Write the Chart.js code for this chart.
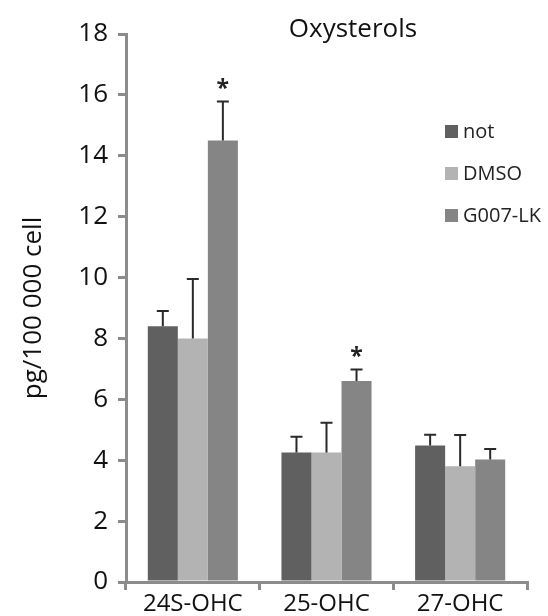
<!DOCTYPE html>
<html>
<head>
<meta charset="utf-8">
<script src="https://cdn.jsdelivr.net/npm/chart.js@4.4.0/dist/chart.umd.min.js"></script>
<style>
  html, body { margin: 0; padding: 0; background: #fff; }
  #wrap { width: 548px; height: 616px; }
</style>
</head>
<body>
<div id="wrap"><canvas id="ch"></canvas></div>
<script>
// data
const categories = ['24S-OHC', '25-OHC', '27-OHC'];
const seriesNames = ['not', 'DMSO', 'G007-LK'];
const notVals = [8.4, 4.25, 4.48];
const dmsoVals = [8.0, 4.25, 3.8];
const g007Vals = [14.5, 6.6, 4.02];
const notErr = [0.5, 0.52, 0.36];
const dmsoErr = [1.95, 0.98, 1.03];
const g007Err = [1.28, 0.38, 0.35];
const g007Signif = [true, true, false];
const yTicks = [0, 2, 4, 6, 8, 10, 12, 14, 16, 18];

const COLS = ['#606060', '#b3b3b3', '#858585'];
const AXIS = '#8c8c8c';
const FONT = 'Open Sans';

const datasets = [
  { label: seriesNames[0], data: notVals, err: notErr, backgroundColor: COLS[0] },
  { label: seriesNames[1], data: dmsoVals, err: dmsoErr, backgroundColor: COLS[1] },
  { label: seriesNames[2], data: g007Vals, err: g007Err, star: g007Signif, backgroundColor: COLS[2] }
].map(d => ({ ...d, categoryPercentage: 0.674, barPercentage: 1.0, borderWidth: 0 }));

// error bars, asterisks, title and legend
const extras = {
  id: 'extras',
  afterDatasetsDraw(chart) {
    const { ctx, scales: { y } } = chart;
    ctx.save();
    chart.data.datasets.forEach((ds, di) => {
      chart.getDatasetMeta(di).data.forEach((bar, i) => {
        const top = y.getPixelForValue(ds.data[i] + ds.err[i]);
        ctx.strokeStyle = '#2a2a2a';
        ctx.lineWidth = 2;
        ctx.beginPath();
        ctx.moveTo(bar.x, bar.y);
        ctx.lineTo(bar.x, top);
        ctx.moveTo(bar.x - 6, top);
        ctx.lineTo(bar.x + 6, top);
        ctx.stroke();
        if (ds.star && ds.star[i]) {
          ctx.fillStyle = '#222';
          ctx.font = `bold 23px ${FONT}`;
          ctx.textAlign = 'center';
          ctx.textBaseline = 'middle';
          ctx.fillText('*', bar.x, top - 12);
        }
      });
    });

    ctx.fillStyle = '#111';
    ctx.font = `26px ${FONT}`;
    ctx.textAlign = 'center';
    ctx.textBaseline = 'middle';
    ctx.fillText('Oxysterols', 353, 30);

    ctx.font = `20px ${FONT}`;
    ctx.textAlign = 'left';
    chart.data.datasets.forEach((ds, di) => {
      const cy = 131 + di * 42;
      ctx.fillStyle = ds.backgroundColor;
      ctx.fillRect(445, cy - 6, 13, 13);
      ctx.fillStyle = '#222';
      ctx.fillText(ds.label, 463, cy + 1);
    });
    ctx.restore();
  }
};

new Chart(document.getElementById('ch'), {
  type: 'bar',
  data: { labels: categories, datasets },
  options: {
    responsive: true,
    maintainAspectRatio: false,
    animation: false,
    layout: { padding: { top: 34, right: 21, left: 0, bottom: 0 } },
    plugins: { legend: { display: false }, tooltip: { enabled: false } },
    scales: {
      x: {
        grid: { display: true, drawOnChartArea: false, drawTicks: true, tickLength: 8, color: AXIS, lineWidth: 3, offset: true },
        border: { color: AXIS, width: 3 },
        ticks: { color: '#111', font: { family: FONT, size: 24 }, padding: 0 },
        afterFit: s => { s.height = 34; }
      },
      y: {
        min: 0, max: 18,
        afterBuildTicks: s => { s.ticks = yTicks.map(v => ({ value: v })); },
        grid: { drawOnChartArea: false, drawTicks: true, tickLength: 8, color: AXIS, lineWidth: 3 },
        border: { color: AXIS, width: 3 },
        ticks: { color: '#111', font: { family: FONT, size: 26 }, padding: 10 },
        title: { display: true, text: 'pg/100 000 cell', color: '#111', font: { family: FONT, size: 26 }, padding: { top: 18, bottom: 0 } },
        afterFit: s => { s.width = 126; }
      }
    }
  },
  plugins: [extras]
});
</script>
</body>
</html>
